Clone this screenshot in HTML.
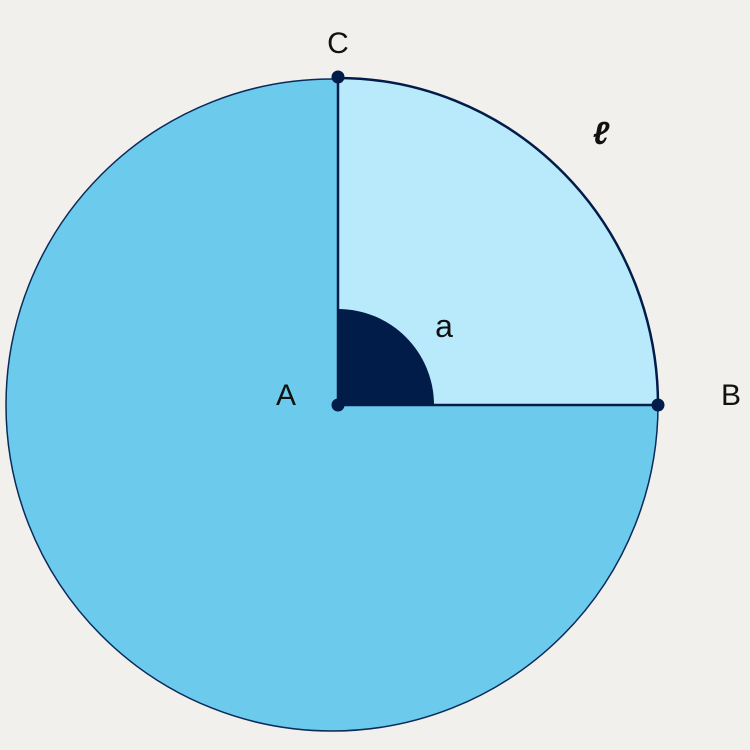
<!DOCTYPE html>
<html>
<head>
<meta charset="utf-8">
<style>
  html, body { margin: 0; padding: 0; background: #f2f0ec; }
  svg { display: block; }
  text { font-family: "Liberation Sans", "DejaVu Sans", sans-serif; fill: #111; }
</style>
</head>
<body>
<svg width="750" height="750" viewBox="0 0 750 750">
  <rect x="0" y="0" width="750" height="750" fill="#f2f0ec"/>
  <circle cx="332" cy="405" r="326" fill="#6ccbec" stroke="#0b2a5a" stroke-width="1.5"/>
  <path d="M338,405 L338,78 A320,327 0 0 1 658,405 Z" fill="#b8eafc" stroke="none"/>
  <path d="M338,78 A320,327 0 0 1 658,405" fill="none" stroke="#021c4a" stroke-width="2.5"/>
  <path d="M338,405 L338,309 A96,96 0 0 1 434,405 Z" fill="#021c4a"/>
  <line x1="338" y1="405" x2="338" y2="78" stroke="#021c4a" stroke-width="2.5"/>
  <line x1="338" y1="405" x2="658" y2="405" stroke="#021c4a" stroke-width="2.5"/>
  <circle cx="338" cy="405" r="6.5" fill="#021c4a"/>
  <circle cx="338" cy="77" r="6.5" fill="#021c4a"/>
  <circle cx="658" cy="405" r="6.5" fill="#021c4a"/>
  <text x="338" y="53" font-size="30" text-anchor="middle">C</text>
  <text x="286" y="405" font-size="30" text-anchor="middle">A</text>
  <text x="731" y="405" font-size="30" text-anchor="middle">B</text>
  <text x="444" y="337" font-size="32" text-anchor="middle">a</text>
  <text x="601" y="144" font-size="32" font-style="italic" font-weight="bold" text-anchor="middle">ℓ</text>
</svg>
</body>
</html>
